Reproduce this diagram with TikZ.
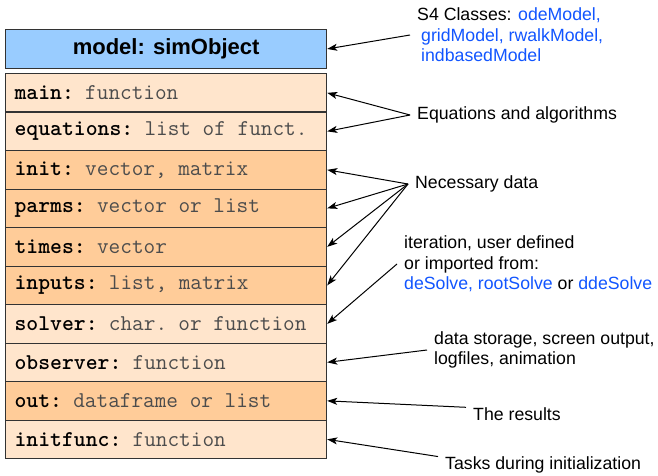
\documentclass[tikz,border=0pt]{standalone}
\usepackage{fontspec}
\setmainfont{Liberation Sans}
\usetikzlibrary{arrows.meta}
\definecolor{headblue}{HTML}{99CCFF}
\definecolor{lightrow}{HTML}{FFE5CC}
\definecolor{darkrow}{HTML}{FFCC99}
\definecolor{linkblue}{HTML}{1155FF}
\definecolor{framegray}{HTML}{333333}
\newcommand{\slot}[2]{\spaceskip=0pt\relax\textbf{#1:} {\color{black!70}#2}}

\begin{document}
\begin{tikzpicture}[x=1pt,y=-1pt,
  row/.style={draw=framegray, line width=1.2pt, anchor=north west,
    minimum height=38.5pt, text width=303pt, inner xsep=9pt, inner ysep=0pt,
    align=left, font=\ttfamily\fontsize{22.6}{24}\selectfont},
  lightrow/.style={row, fill=lightrow},
  darkrow/.style={row, fill=darkrow},
  note/.style={anchor=west, align=left, inner xsep=7pt, inner ysep=0pt,
    font=\fontsize{17.7}{20.5}\selectfont,
    execute at begin node={\spaceskip=0pt\relax}},
  pointer/.style={line width=1pt, -{Stealth[length=10pt,width=7pt,inset=2.5pt]}}]
		%%%%% START %%%%%
		\useasboundingbox (0,0) rectangle (658,476);

		% class header
		\node[draw=framegray, line width=1.2pt, fill=headblue, anchor=north west,
		  minimum width=321pt, minimum height=38.7pt, inner sep=0pt,
		  font=\bfseries\fontsize{22}{24}\selectfont] (header) at (5,29) {model: simObject};

		% slots
		\node[lightrow] (main) at (5,73) {\slot{main}{function}};
		\node[lightrow] (equations) at (5,111.5) {\slot{equations}{list of funct.}};
		\node[darkrow] (init) at (5,150) {\slot{init}{vector, matrix}};
		\node[darkrow] (parms) at (5,188.5) {\slot{parms}{vector or list}};
		\node[darkrow] (times) at (5,227) {\slot{times}{vector}};
		\node[darkrow] (inputs) at (5,265.5) {\slot{inputs}{list, matrix}};
		\node[lightrow] (solver) at (5,304) {\slot{solver}{char. or function}};
		\node[lightrow] (observer) at (5,342.5) {\slot{observer}{function}};
		\node[darkrow] (out) at (5,381) {\slot{out}{dataframe or list}};
		\node[lightrow] (initfunc) at (5,419.5) {\slot{initfunc}{function}};

		% notes
		\node[note] (classes) at (410,35) {S4 Classes: {\color{linkblue}odeModel,}\\
		  \hspace*{4pt}{\color{linkblue}gridModel, rwalkModel,}\\
		  \hspace*{4pt}{\color{linkblue}indbasedModel}};
		\node[note] (algos) at (410,115) {Equations and algorithms};
		\node[note] (data) at (408,184) {Necessary data};
		\node[note] (iteration) at (397,264) {iteration, user defined\\
		  or imported from:\\
		  {\color{linkblue}deSolve, rootSolve} or {\color{linkblue}ddeSolve}};
		\node[note] (storage) at (427,350) {data storage, screen output,\\
		  logfiles, animation};
		\node[note] (results) at (466,414) {The results};
		\node[note] (tasks) at (438,465) {Tasks during initialization};

		% pointers
		\draw[pointer] (classes.west) -- (header.east);
		\draw[pointer] (algos.west) -- (main.east);
		\draw[pointer] (algos.west) -- (equations.east);
		\draw[pointer] (data.west) -- (init.east);
		\draw[pointer] (data.west) -- (parms.east);
		\draw[pointer] (data.west) -- (times.east);
		\draw[pointer] (data.west) -- (inputs.east);
		\draw[pointer] (iteration.west) -- (solver.east);
		\draw[pointer] (storage.west) -- (observer.east);
		\draw[pointer] (results.north west) -- (out.east);
		\draw[pointer] (tasks.north west) -- (initfunc.east);
		%%%%% END %%%%%
\end{tikzpicture}
\end{document}
